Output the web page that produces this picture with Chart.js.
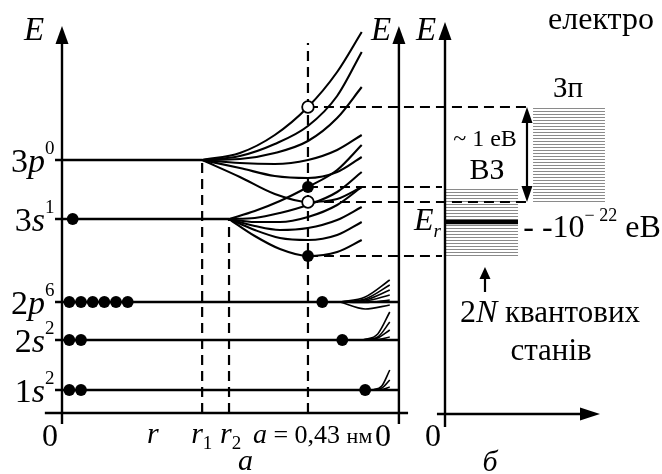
<!DOCTYPE html>
<html>
<head>
<meta charset="utf-8">
<script src="https://cdn.jsdelivr.net/npm/chart.js@4.4.1/dist/chart.umd.min.js"></script>
<style>
  html, body { margin: 0; padding: 0; background: #fff; }
  canvas { display: block; }
</style>
</head>
<body>
<canvas id="bands" width="662" height="474"></canvas>
<script>
// atomic levels (E in arbitrary units), r in nm
const levelNames = [['1', 's', '2'], ['2', 's', '2'], ['2', 'p', '6'], ['3', 's', '1'], ['3', 'p', '0']];
const levelE = [2.3, 7.3, 11.1, 19.4, 25.3];
const levelEndX = [0.589, 0.589, 0.589, 0.292, 0.245];
const electronX = [
    [0.0128, 0.0332],
    [0.0128, 0.0332],
    [0.0128, 0.0332, 0.0537, 0.0740, 0.0944, 0.1149],
    [0.0187],
    []
];

const r1 = 0.245, r2 = 0.292, aNm = 0.43, rEnd = 0.589, rLabel = 0.159;

// 3p and 3s levels splitting into bands
const fan3pX = [0.245, 0.311, 0.372, 0.430, 0.481, 0.524];
const fan3pE = [
    [25.3, 26.0, 27.8, 30.6, 34.1, 38.1],
    [25.3, 25.7, 26.9, 28.7, 31.7, 36.1],
    [25.3, 25.4, 26.0, 27.2, 29.5, 32.6],
    [25.3, 25.0, 24.9, 25.3, 26.3, 27.8],
    [25.3, 24.5, 23.7, 23.5, 24.1, 25.6],
    [25.3, 23.6, 21.9, 21.1, 21.4, 22.6]
];
const fan3sX = [0.292, 0.337, 0.381, 0.430, 0.481, 0.524];
const fan3sE = [
    [19.4, 20.2, 21.2, 22.6, 24.3, 26.8],
    [19.4, 19.5, 20.0, 20.8, 22.1, 24.1],
    [19.4, 19.1, 19.1, 19.6, 20.8, 22.6],
    [19.4, 18.7, 18.3, 18.5, 19.3, 20.6],
    [19.4, 18.3, 17.5, 17.3, 17.8, 19.1],
    [19.4, 17.7, 16.4, 15.7, 16.1, 17.3]
];

// inner shells split only at small r
const fan2pX = [0.486, 0.530, 0.573];
const fan2pE = [
    [11.1, 11.6, 13.3],
    [11.1, 11.4, 12.8],
    [11.1, 11.3, 12.3],
    [11.1, 11.2, 11.8],
    [11.1, 11.05, 11.3],
    [11.1, 10.4, 10.8]
];
const fan2sX = [0.526, 0.552, 0.573];
const fan2sE = [
    [7.3, 7.9, 10.1],
    [7.3, 7.6, 9.1],
    [7.3, 7.5, 8.3],
    [7.3, 7.35, 7.6]
];
const fan1sX = [0.542, 0.559, 0.573];
const fan1sE = [
    [2.3, 2.7, 4.3],
    [2.3, 2.5, 3.3],
    [2.3, 2.35, 2.6]
];
const shellDotX = [0.530, 0.490, 0.455]; // 1s, 2s, 2p

// band edges at r = a
const edge3p = [21.1, 30.6];
const edge3s = [15.7, 22.6];

// panel б (own horizontal scale)
const condBandX = [0.568, 1.032];
const valBandX = [0, 0.471];
const fermiE = 19.1;
const gapArrowX = 0.529;
const leader3pEnd = 0.548;
const statesArrowX = 0.258;
const statesArrowE = [12.1, 14.6];

const SERIF = '"Liberation Serif", "Times New Roman", serif';

let datasets = [];

// filled dots: electrons
let filled = [];
levelE.forEach((e, i) => electronX[i].forEach(x => filled.push({ x: x, y: e })));
shellDotX.forEach((x, i) => filled.push({ x: x, y: levelE[i] }));
edge3s.forEach(e => filled.push({ x: aNm, y: e }));
datasets.push({
    data: filled, showLine: false, pointRadius: 5.9, pointBackgroundColor: '#000',
    pointBorderWidth: 0, order: 0, xAxisID: 'x'
});
datasets.push({
    data: edge3p.map(e => ({ x: aNm, y: e })), showLine: false, pointRadius: 5.8,
    pointBackgroundColor: '#fff', pointBorderColor: '#000', pointBorderWidth: 1.8, order: 0, xAxisID: 'x'
});

function line(points, extra) {
    return Object.assign({
        data: points, showLine: true, pointRadius: 0, borderColor: '#000',
        borderWidth: 2.4, order: 2, xAxisID: 'x'
    }, extra || {});
}

levelE.forEach((e, i) => datasets.push(line([{ x: -0.0122, y: e }, { x: levelEndX[i], y: e }])));

function addFan(xs, rows, w) {
    rows.forEach(row => datasets.push(line(xs.map((x, j) => ({ x: x, y: row[j] })),
        { borderWidth: w, cubicInterpolationMode: 'monotone', order: 1 })));
}
addFan(fan3pX, fan3pE, 2.1);
addFan(fan3sX, fan3sE, 2.1);
addFan(fan2pX, fan2pE, 1.6);
addFan(fan2sX, fan2sE, 1.6);
addFan(fan1sX, fan1sE, 1.6);

// dashed verticals r1, r2, a
[[r1, levelE[4]], [r2, levelE[3]], [aNm, 37.0]].forEach(v =>
    datasets.push(line([{ x: v[0], y: 0 }, { x: v[0], y: v[1] }], { borderDash: [10, 6], borderWidth: 2.2, order: 3 })));

// Fermi level in panel б
datasets.push(line([{ x: valBandX[0], y: fermiE }, { x: valBandX[1], y: fermiE }],
    { borderWidth: 4.5, xAxisID: 'xb', order: 1 }));

function arrowHead(ctx, x, y, dx, dy, len, half) {
    ctx.beginPath();
    ctx.moveTo(x, y);
    ctx.lineTo(x - dx * len - dy * half, y - dy * len + dx * half);
    ctx.lineTo(x - dx * len + dy * half, y - dy * len - dx * half);
    ctx.closePath();
    ctx.fill();
}

function seg(ctx, x1, y1, x2, y2) {
    ctx.beginPath();
    ctx.moveTo(x1, y1);
    ctx.lineTo(x2, y2);
    ctx.stroke();
}

function drawRuns(ctx, parts, x, y, align) {
    let w = 0;
    parts.forEach(p => {
        p.f = (p.i ? 'italic ' : '') + p.s + 'px ' + SERIF;
        ctx.font = p.f;
        p.w = ctx.measureText(p.t).width;
        w += p.w;
    });
    let cx = align === 'center' ? x - w / 2 : align === 'right' ? x - w : x;
    parts.forEach(p => {
        ctx.font = p.f;
        ctx.fillText(p.t, cx, y + (p.dy || 0));
        cx += p.w;
    });
}

let hatch = null;
function hatchPattern(ctx) {
    if (!hatch) {
        const c = document.createElement('canvas');
        c.width = 4; c.height = 3;
        const g = c.getContext('2d');
        g.fillStyle = '#fff';
        g.fillRect(0, 0, 4, 3);
        g.fillStyle = '#8a8a8a';
        g.fillRect(0, 0, 4, 1);
        hatch = ctx.createPattern(c, 'repeat');
    }
    return hatch;
}

const diagram = {
    id: 'diagram',
    beforeDraw(chart) {
        const ctx = chart.ctx;
        ctx.save();
        ctx.fillStyle = '#fff';
        ctx.fillRect(0, 0, chart.width, chart.height);
        ctx.restore();
    },
    beforeDatasetsDraw(chart) {
        const ctx = chart.ctx, X = chart.scales.x, XB = chart.scales.xb, Y = chart.scales.y;
        const px = v => X.getPixelForValue(v), pb = v => XB.getPixelForValue(v), py = v => Y.getPixelForValue(v);
        ctx.save();
        // bands
        ctx.fillStyle = hatchPattern(ctx);
        ctx.fillRect(pb(condBandX[0]), py(edge3p[1]), pb(condBandX[1]) - pb(condBandX[0]), py(edge3p[0]) - py(edge3p[1]));
        ctx.fillRect(pb(valBandX[0]), py(edge3s[1]), pb(valBandX[1]) - pb(valBandX[0]), py(edge3s[0]) - py(edge3s[1]));
        // leaders from r = a to panel б
        ctx.strokeStyle = '#000';
        ctx.fillStyle = '#000';
        ctx.lineWidth = 2.2;
        ctx.setLineDash([10, 6]);
        edge3p.forEach(e => seg(ctx, px(aNm), py(e), pb(leader3pEnd), py(e)));
        edge3s.forEach(e => seg(ctx, px(aNm), py(e), pb(0) - 3, py(e)));
        ctx.setLineDash([]);
        ctx.lineWidth = 2.4;
        // axes of panel a
        const top = py(38.7), bot = py(-1.1);
        seg(ctx, px(0), bot, px(0), top + 10);
        arrowHead(ctx, px(0), top, 0, -1, 18, 6.5);
        seg(ctx, px(rEnd), bot, px(rEnd), top + 10);
        arrowHead(ctx, px(rEnd), top, 0, -1, 18, 6.5);
        seg(ctx, px(-0.030), py(0), px(0.605), py(0));
        // axes of panel б
        const topB = py(39.1);
        seg(ctx, pb(0), py(-1.4), pb(0), topB + 10);
        arrowHead(ctx, pb(0), topB, 0, -1, 18, 6.5);
        seg(ctx, pb(-0.052), py(-0.1), pb(1.0) - 10, py(-0.1));
        arrowHead(ctx, pb(1.0), py(-0.1), 1, 0, 20, 6.5);
        // gap arrow
        ctx.lineWidth = 2.2;
        const gx = pb(gapArrowX);
        seg(ctx, gx, py(edge3p[1]) + 10, gx, py(edge3p[0]) - 10);
        arrowHead(ctx, gx, py(edge3p[1]), 0, -1, 16, 5.5);
        arrowHead(ctx, gx, py(edge3p[0]), 0, 1, 16, 5.5);
        // 2N states arrow
        const sx = pb(statesArrowX);
        seg(ctx, sx, py(statesArrowE[0]), sx, py(statesArrowE[1]) + 6);
        arrowHead(ctx, sx, py(statesArrowE[1]), 0, -1, 12, 5.5);
        ctx.restore();
    },
    afterDatasetsDraw(chart) {
        const ctx = chart.ctx, X = chart.scales.x, XB = chart.scales.xb, Y = chart.scales.y;
        const px = v => X.getPixelForValue(v), pb = v => XB.getPixelForValue(v), py = v => Y.getPixelForValue(v);
        ctx.save();
        ctx.fillStyle = '#000';
        ctx.textAlign = 'left';
        ctx.textBaseline = 'alphabetic';
        // level labels
        levelNames.forEach((n, i) => {
            const y = py(levelE[i]);
            drawRuns(ctx, [{ t: n[0], s: 34 }, { t: n[1], s: 34, i: true }], px(0) - 17, y + 12, 'right');
            drawRuns(ctx, [{ t: n[2], s: 19 }], px(0) - 17, y - 6, 'left');
        });
        // E labels
        drawRuns(ctx, [{ t: 'E', s: 33, i: true }], px(0) - 38, 40, 'left');
        drawRuns(ctx, [{ t: 'E', s: 33, i: true }], px(rEnd) - 28, 40, 'left');
        drawRuns(ctx, [{ t: 'E', s: 33, i: true }], pb(0) - 29, 40, 'left');
        // bottom of panel a
        const by = py(0) + 33;
        drawRuns(ctx, [{ t: '0', s: 32 }], px(0) - 12, by, 'center');
        drawRuns(ctx, [{ t: '0', s: 32 }], px(rEnd) - 16, by, 'center');
        drawRuns(ctx, [{ t: 'r', s: 30, i: true }], px(rLabel), by - 3, 'center');
        drawRuns(ctx, [{ t: 'r', s: 30, i: true }, { t: '1', s: 19, dy: 6 }], px(r1) - 11, by - 3, 'left');
        drawRuns(ctx, [{ t: 'r', s: 30, i: true }, { t: '2', s: 19, dy: 6 }], px(r2) - 9, by - 3, 'left');
        drawRuns(ctx, [{ t: 'a', s: 28, i: true }, { t: ' = 0,43 ', s: 26 }, { t: 'нм', s: 22 }], px(aNm) - 55, by - 3, 'left');
        drawRuns(ctx, [{ t: 'а', s: 30, i: true }], px(0.321), 470, 'center');
        // panel б texts
        drawRuns(ctx, [{ t: '0', s: 32 }], pb(0) - 4, by, 'right');
        drawRuns(ctx, [{ t: 'б', s: 30, i: true }], pb(0.290), 471, 'center');
        drawRuns(ctx, [{ t: 'Зп', s: 29 }], pb(0.794), py(edge3p[1]) - 10, 'center');
        drawRuns(ctx, [{ t: '~ 1 еВ', s: 24 }], pb(0.258), py(edge3p[1]) + 39, 'center');
        drawRuns(ctx, [{ t: 'ВЗ', s: 30 }], pb(0.271), py(edge3s[1]) - 8, 'center');
        drawRuns(ctx, [{ t: 'E', s: 32, i: true }, { t: 'r', s: 19, i: true, dy: 7 }], pb(0) - 31, py(fermiE) + 8, 'left');
        drawRuns(ctx, [{ t: '- -10', s: 32 }, { t: '− 22', s: 18, dy: -16 }, { t: ' еВ', s: 32 }], pb(0.505), py(fermiE) + 15, 'left');
        drawRuns(ctx, [{ t: '2', s: 32 }, { t: 'N', s: 32, i: true }, { t: ' квантових', s: 31 }], pb(0.677), 322, 'center');
        drawRuns(ctx, [{ t: 'станів', s: 31 }], pb(0.684), 360, 'center');
        drawRuns(ctx, [{ t: 'електро', s: 32 }], pb(0.665), 29, 'left');
        ctx.restore();
    }
};

new Chart(document.getElementById('bands'), {
    type: 'scatter',
    data: { datasets: datasets },
    options: {
        responsive: false,
        animation: false,
        events: [],
        layout: { padding: 0, autoPadding: false },
        plugins: { legend: { display: false }, tooltip: { enabled: false } },
        scales: {
            x: { type: 'linear', min: -0.10839, max: 1.04895, display: false },
            xb: { type: 'linear', axis: 'x', min: -2.871, max: 1.4, display: false },
            y: { type: 'linear', min: -6.1, max: 41.3, display: false }
        }
    },
    plugins: [diagram]
});
</script>
</body>
</html>
